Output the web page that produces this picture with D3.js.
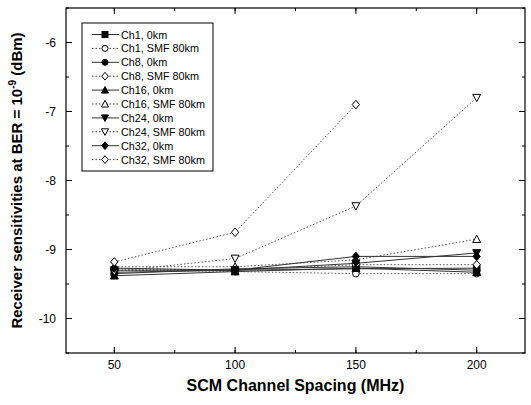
<!DOCTYPE html>
<html>
<head>
<meta charset="utf-8">
<script src="https://cdn.jsdelivr.net/npm/d3@7"></script>
<style>
  body { margin: 0; background: #fff; }
  svg { display: block; font-family: "Liberation Sans", Arial, sans-serif; }
</style>
</head>
<body>
<svg></svg>
<script>
// data
var spacing = [50, 100, 150, 200];
var seriesNames = ["Ch1, 0km", "Ch1, SMF 80km", "Ch8, 0km", "Ch8, SMF 80km",
  "Ch16, 0km", "Ch16, SMF 80km", "Ch24, 0km", "Ch24, SMF 80km",
  "Ch32, 0km", "Ch32, SMF 80km"];
var ch1_0   = [-9.33, -9.30, -9.28, -9.27];
var ch1_80  = [-9.30, -9.32, -9.35, -9.35];
var ch8_0   = [-9.35, -9.28, -9.25, -9.30];
var ch8_80  = [-9.28, -9.30, -9.22, -9.22];
var ch16_0  = [-9.38, -9.32, -9.27, -9.33];
var ch16_80 = [-9.25, -9.25, -9.15, -8.85];
var ch24_0  = [-9.30, -9.30, -9.20, -9.05];
var ch24_80 = [-9.32, -9.13, -8.37, -6.80];
var ch32_0  = [-9.27, -9.30, -9.10, -9.10];
var ch32_80 = [-9.18, -8.75, -6.90];
var xTicks = [50, 100, 150, 200];
var yTicks = [-10, -9, -8, -7, -6];

var allValues = [ch1_0, ch1_80, ch8_0, ch8_80, ch16_0, ch16_80, ch24_0, ch24_80, ch32_0, ch32_80];
// marker shape / fill / dashed per series
var shapes = ["square", "circle", "circle", "diamond", "triUp", "triUp", "triDown", "triDown", "diamond", "diamond"];
var filled = [true, false, true, false, true, false, true, false, true, false];

var svgWidth = 531, svgHeight = 405;
var margin = {top: 8, right: 6, bottom: 52, left: 66},
    width = svgWidth - margin.left - margin.right,
    height = svgHeight - margin.top - margin.bottom;

var svg = d3.select("svg").attr("width", svgWidth).attr("height", svgHeight);
var g = svg.append("g").attr("transform", "translate(" + [margin.left, margin.top] + ")");

var x = d3.scaleLinear().domain([30, 220]).range([0, width]);
var y = d3.scaleLinear().domain([-10.5, -5.5]).range([height, 0]);

// ticks (inward, mirrored)
var xMinor = d3.range(50, 201, 25), yMinor = d3.range(-10.5, -5.49, 0.5);
function tickLines(vals, isX, len) {
  vals.forEach(function(v) {
    if (isX) {
      g.append("line").attr("x1", x(v)).attr("x2", x(v)).attr("y1", height).attr("y2", height - len).attr("stroke", "#000");
      g.append("line").attr("x1", x(v)).attr("x2", x(v)).attr("y1", 0).attr("y2", len).attr("stroke", "#000");
    } else {
      g.append("line").attr("y1", y(v)).attr("y2", y(v)).attr("x1", 0).attr("x2", len).attr("stroke", "#000");
      g.append("line").attr("y1", y(v)).attr("y2", y(v)).attr("x1", width).attr("x2", width - len).attr("stroke", "#000");
    }
  });
}
tickLines(xMinor, true, 3);
tickLines(xTicks, true, 6);
tickLines(yMinor, false, 3);
tickLines(yTicks, false, 6);

g.selectAll(".xl").data(xTicks).enter().append("text")
  .attr("x", function(d) { return x(d); }).attr("y", height + 16)
  .attr("text-anchor", "middle").attr("font-size", 12).text(function(d) { return d; });
g.selectAll(".yl").data(yTicks).enter().append("text")
  .attr("x", -10).attr("y", function(d) { return y(d) + 4; })
  .attr("text-anchor", "end").attr("font-size", 12).text(function(d) { return d; });

g.append("rect").attr("width", width).attr("height", height)
  .attr("fill", "none").attr("stroke", "#000").attr("stroke-width", 1.2);

// symbols
function marker(sel, shape, fill, cx, cy, s) {
  var p;
  if (shape == "square") p = sel.append("rect").attr("x", cx - s).attr("y", cy - s).attr("width", 2 * s).attr("height", 2 * s);
  else if (shape == "circle") p = sel.append("circle").attr("cx", cx).attr("cy", cy).attr("r", s);
  else {
    var pts;
    if (shape == "diamond") pts = [[cx, cy - s * 1.3], [cx + s * 1.1, cy], [cx, cy + s * 1.3], [cx - s * 1.1, cy]];
    else if (shape == "triUp") pts = [[cx, cy - s * 1.2], [cx + s * 1.2, cy + s], [cx - s * 1.2, cy + s]];
    else pts = [[cx, cy + s * 1.2], [cx + s * 1.2, cy - s], [cx - s * 1.2, cy - s]];
    p = sel.append("polygon").attr("points", pts.map(function(q) { return q.join(","); }).join(" "));
  }
  p.attr("fill", fill ? "#000" : "#fff").attr("stroke", "#000").attr("stroke-width", 1);
}

var line = d3.line().x(function(d) { return x(d[0]); }).y(function(d) { return y(d[1]); });

allValues.forEach(function(vals, i) {
  var pts = vals.map(function(v, j) { return [spacing[j], v]; });
  g.append("path").attr("d", line(pts)).attr("fill", "none")
    .attr("stroke", filled[i] ? "#333" : "#555").attr("stroke-width", 1)
    .attr("stroke-dasharray", filled[i] ? null : "1.5,2");
});
allValues.forEach(function(vals, i) {
  vals.forEach(function(v, j) { marker(g, shapes[i], filled[i], x(spacing[j]), y(v), 3.3); });
});

// legend
var lg = svg.append("g").attr("transform", "translate(82,23)");
lg.append("rect").attr("width", 131).attr("height", 148).attr("fill", "#fff").attr("stroke", "#000");
seriesNames.forEach(function(name, i) {
  var ly = 11.5 + i * 13.9;
  lg.append("line").attr("x1", 10).attr("x2", 37).attr("y1", ly).attr("y2", ly)
    .attr("stroke", "#333").attr("stroke-dasharray", filled[i] ? null : "1.5,2");
  marker(lg, shapes[i], filled[i], 23, ly, 3);
  lg.append("text").attr("x", 39).attr("y", ly + 4).attr("font-size", 10.8).text(name);
});

// axis titles
svg.append("text").attr("x", margin.left + width / 2).attr("y", 391)
  .attr("text-anchor", "middle").attr("font-size", 16).attr("font-weight", "bold")
  .text("SCM Channel Spacing (MHz)");
var yt = svg.append("text").attr("transform", "translate(22," + (margin.top + height / 2) + ") rotate(-90)")
  .attr("text-anchor", "middle").attr("font-size", 15).attr("font-weight", "bold");
yt.append("tspan").text("Receiver sensitivities at BER = 10");
yt.append("tspan").attr("font-size", 10).attr("dy", -6).text("-9");
yt.append("tspan").attr("dy", 6).text(" (dBm)");
</script>
</body>
</html>
